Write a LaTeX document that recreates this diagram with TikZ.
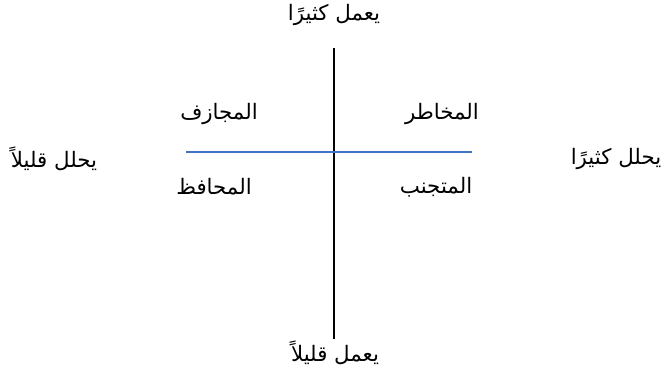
\documentclass[tikz,border=0pt]{standalone}
\usepackage{fontspec}
\usepackage{xcolor}
\usetikzlibrary{positioning}
\TeXXeTstate=1
\newfontfamily\arabicfont[Script=Arabic]{DejaVu Sans}
\definecolor{axisblue}{RGB}{68,114,196}

\begin{document}
\begin{tikzpicture}[
    x=0.75pt, y=-0.75pt,
    every node/.style={font=\arabicfont\fontsize{16}{18}\selectfont, inner sep=0pt, anchor=center},
    vaxis/.style={draw=black, line width=1.1pt},
    haxis/.style={draw=axisblue, line width=1pt}
]
\useasboundingbox (0,0) rectangle (664,377);
% axis labels
\node (workmore) at (334,15) {\beginR يعمل كثيرًا\endR};
\node (workless) at (335,353) {\beginR يعمل قليلاً\endR};
\node (analyzeless) at (54,159) {\beginR يحلل قليلاً\endR};
\node (analyzemore) at (616,159) {\beginR يحلل كثيرًا\endR};
% quadrants
\node (risky) at (219,114) {\beginR المجازف\endR};
\node (danger) at (442,114) {\beginR المخاطر\endR};
\node (keeper) at (214,187) {\beginR المحافظ\endR};
\node (avoider) at (436,187) {\beginR المتجنب\endR};
% axes
\coordinate (vtop) at (334,48);
\coordinate (vbot) at (334,339);
\coordinate (hleft) at (186,152);
\coordinate (hright) at (472,152);
\draw[vaxis] (vtop) -- (vbot);
\draw[haxis] (hleft) -- (hright);
\end{tikzpicture}
\end{document}
